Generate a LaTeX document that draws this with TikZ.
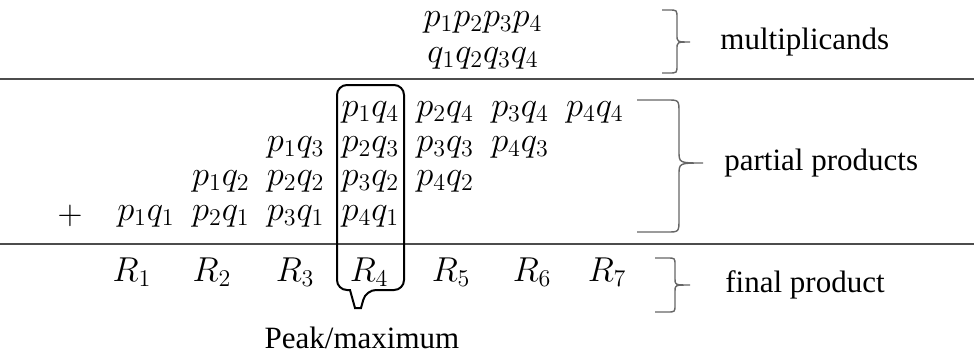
\documentclass[tikz,border=0pt]{standalone}
\usepackage{fontspec}
\setmainfont{Liberation Serif}
\newfontfamily\labelfont{Liberation Serif}

\begin{document}
\begin{tikzpicture}[x=0.5pt,y=-0.5pt,font=\labelfont\fontsize{15.5}{18.6}\selectfont,
  term/.style={font=\fontsize{17.5}{20}\selectfont,inner sep=0pt},
  caption/.style={anchor=west,inner sep=0pt},
  rule/.style={black!70,line width=1pt},
  sidebrace/.style={black!60,line width=0.7pt}]
  \useasboundingbox (0,0) rectangle (974,354);
  % multiplicands
  \node[term] (pp) at (483,22) {$p_1p_2p_3p_4$};
  \node[term] (qq) at (483,58) {$q_1q_2q_3q_4$};
  \draw[sidebrace] (662,10) -- (669,10) .. controls (677,10) .. (677,18)
    -- (677,35) .. controls (677,42) .. (690,42) .. controls (677,42) .. (677,49)
    -- (677,65) .. controls (677,73) .. (669,73) -- (662,73);
  \node[caption] (mult) at (720,42) {multiplicands};
  \draw[rule] (0,79)--(974,79);
  % partial products, p_i q_j in column i+j-2
  \foreach \i in {1,...,4}
    \foreach \j in {1,...,4}
      \node[term] (pq\i\j) at ({146+74.8*(\i+\j-2)},{216-34.5*(\j-1)}) {$p_\i q_\j$};
  \node[term] (plus) at (70,216) {$+$};
  \draw[sidebrace] (637,100) -- (667,100) .. controls (679,100) .. (679,113)
    -- (679,151) .. controls (679,163) .. (703,163) .. controls (679,163) .. (679,175)
    -- (679,219) .. controls (679,232) .. (667,232) -- (637,232);
  \node[caption] (part) at (724,163) {partial products};
  \draw[rule] (0,244)--(974,244);
  % final product
  \foreach \k/\x in {1/132,2/212,3/295,4/369,5/451,6/532,7/607}
    \node[term] (r\k) at (\x,272) {$R_\k$};
  \draw[sidebrace] (655,258) -- (667,258) .. controls (675,258) .. (675,265)
    -- (675,279) .. controls (675,285) .. (690,285) .. controls (675,285) .. (675,291)
    -- (675,305) .. controls (675,312) .. (667,312) -- (655,312);
  \node[caption] (final) at (725,285) {final product};
  % peak column
  \draw[line width=1pt,rounded corners=5pt] (350,290) -- (337,290) -- (337,85)
    -- (404,85) -- (404,290) -- (366,290) [sharp corners] -- (361,308) -- (355,308) -- cycle;
  \node (peak) at (362,338) {Peak/maximum};
\end{tikzpicture}
\end{document}
